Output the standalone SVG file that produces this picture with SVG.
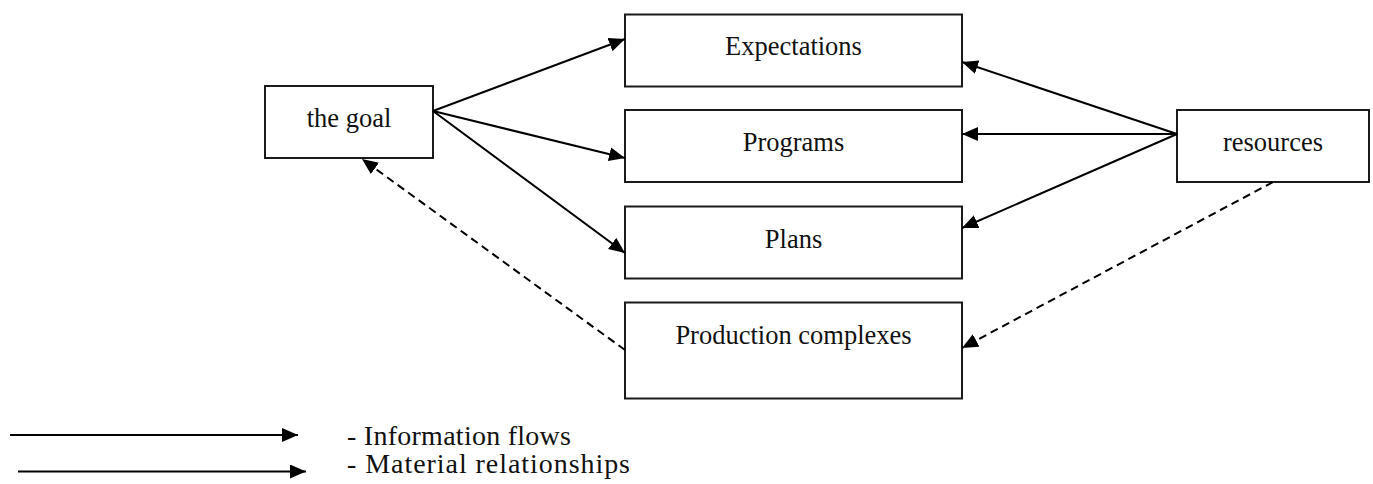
<svg xmlns="http://www.w3.org/2000/svg" width="1373" height="484" viewBox="0 0 1373 484">
<style>
.box{fill:#fff;stroke:#1a1a1a;stroke-width:2}
.lbl{font-family:"Liberation Serif","Times New Roman",serif;font-size:26.5px;fill:#111;text-anchor:middle}
.leg{font-family:"Liberation Serif","Times New Roman",serif;font-size:28px;fill:#111}
.ln{fill:none;stroke:#000;stroke-width:2}
.dash{stroke-dasharray:8 5}
</style>
<defs>
<marker id="ah" markerUnits="userSpaceOnUse" markerWidth="17" markerHeight="15" refX="16" refY="7" orient="auto">
<path d="M0,0 L16,7 L0,14 z" fill="#000"/>
</marker>
</defs>
<rect width="1373" height="484" fill="#fff"/>
<g id="goal"><rect class="box" x="265" y="86" width="168" height="72"/><text class="lbl" x="349" y="127">the goal</text></g>
<g id="expectations"><rect class="box" x="625" y="14.5" width="337" height="72"/><text class="lbl" x="793.5" y="55">Expectations</text></g>
<g id="programs"><rect class="box" x="625" y="110" width="337" height="72"/><text class="lbl" x="793.5" y="151">Programs</text></g>
<g id="plans"><rect class="box" x="625" y="206.5" width="337" height="72"/><text class="lbl" x="793.5" y="247.5">Plans</text></g>
<g id="production"><rect class="box" x="625" y="302.5" width="337" height="96"/><text class="lbl" x="793.5" y="343.5">Production complexes</text></g>
<g id="resources"><rect class="box" x="1177" y="110" width="192" height="72"/><text class="lbl" x="1273" y="151">resources</text></g>
<g id="connectors">
<line class="ln" x1="433" y1="111" x2="625" y2="39" marker-end="url(#ah)"/>
<line class="ln" x1="433" y1="111" x2="625" y2="158" marker-end="url(#ah)"/>
<line class="ln" x1="433" y1="111" x2="625" y2="253" marker-end="url(#ah)"/>
<line class="ln" x1="1177" y1="134" x2="962" y2="62" marker-end="url(#ah)"/>
<line class="ln" x1="1177" y1="134" x2="962" y2="134" marker-end="url(#ah)"/>
<line class="ln" x1="1177" y1="134" x2="962" y2="228" marker-end="url(#ah)"/>
<line class="ln dash" x1="1273" y1="182" x2="962" y2="348" marker-end="url(#ah)"/>
<line class="ln dash" x1="625" y1="350" x2="362" y2="159" marker-end="url(#ah)"/>
</g>
<g id="legend">
<line class="ln" x1="10" y1="435" x2="298" y2="435" marker-end="url(#ah)"/>
<line class="ln" x1="18" y1="471.5" x2="306" y2="471.5" marker-end="url(#ah)"/>
<text class="leg" x="347" y="445" textLength="224" lengthAdjust="spacing">- Information flows</text>
<text class="leg" x="347" y="473" textLength="283" lengthAdjust="spacing">- Material relationships</text>
</g>
</svg>
